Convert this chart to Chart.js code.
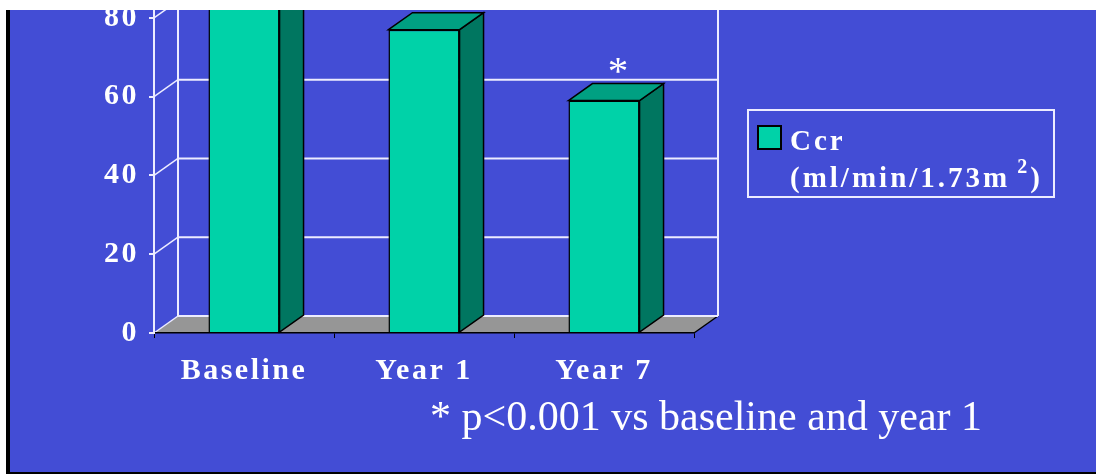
<!DOCTYPE html>
<html>
<head>
<meta charset="utf-8">
<script src="https://cdn.jsdelivr.net/npm/chart.js@4.4.0/dist/chart.umd.min.js"></script>
<style>
  html, body { margin: 0; padding: 0; background: #fff; }
  body { width: 1096px; height: 474px; position: relative; overflow: hidden; }
  #chart { position: absolute; left: 0; top: 0; }
  .legend-box {
    position: absolute; left: 747px; top: 109px; width: 308px; height: 89px;
    box-sizing: border-box; border: 2px solid #ececff;
  }
  .legend-swatch {
    position: absolute; left: 757px; top: 125px; width: 25px; height: 25px;
    box-sizing: border-box; border: 2px solid #000;
  }
  .legend-text {
    position: absolute; left: 790px; top: 122px; color: #fff;
    font: bold 29px/37px "Liberation Serif", serif; letter-spacing: 3px; white-space: nowrap;
  }
  .legend-text sup { font-size: 20px; line-height: 0; position: relative; top: -3px; margin-left: 7px; }
  .footnote {
    position: absolute; left: 430px; top: 395px; color: #fff;
    font: 42px/1 "Liberation Serif", serif; white-space: nowrap;
  }
</style>
</head>
<body>
<canvas id="chart" width="1096" height="474"></canvas>
<div class="legend-box"></div>
<div class="legend-swatch" id="swatch"></div>
<div class="legend-text" id="legendText"></div>
<div class="footnote" id="footnote"></div>
<script>
// donnees
const categories = ["Baseline", "Year 1", "Year 7"];
const ccrValues = [86, 77, 59];          // baseline depasse le haut de l'image
const significance = ["", "", "*"];
const yTicks = [0, 20, 40, 60, 80];
const seriesName = "Ccr";
const seriesUnit = "(ml/min/1.73m";
const seriesUnitSup = "2";
const footnoteText = "* p<0.001 vs baseline and year 1";

// couleurs
const BG = "#434dd5";
const FRONT = "#00d2a8";
const SIDE = "#007660";
const TOP = "#00a082";
const FLOOR = "#969696";
const GRID = "#ececff";

// profondeur de l'effet 3D
const DX = 24;
const DY = 17;

function line(ctx, x1, y1, x2, y2) {
    ctx.beginPath();
    ctx.moveTo(x1, y1);
    ctx.lineTo(x2, y2);
    ctx.stroke();
}

function poly(ctx, pts, fill) {
    ctx.beginPath();
    ctx.moveTo(pts[0][0], pts[0][1]);
    pts.slice(1).forEach(p => ctx.lineTo(p[0], p[1]));
    ctx.closePath();
    ctx.fillStyle = fill;
    ctx.fill();
    ctx.stroke();
}

// fond, sol et mur du fond, puis faces laterales des barres
const pseudo3d = {
    id: "pseudo3d",
    beforeDraw(chart) {
        const ctx = chart.ctx;
        const area = chart.chartArea;
        const y = chart.scales.y;
        const y0 = y.getPixelForValue(0);

        ctx.save();
        ctx.fillStyle = BG;
        ctx.fillRect(0, 0, chart.width, chart.height);

        // sol
        ctx.fillStyle = FLOOR;
        ctx.beginPath();
        ctx.moveTo(area.left, y0);
        ctx.lineTo(area.right, y0);
        ctx.lineTo(area.right + DX, y0 - DY);
        ctx.lineTo(area.left + DX, y0 - DY);
        ctx.closePath();
        ctx.fill();
        ctx.strokeStyle = "#000";
        ctx.lineWidth = 1.5;
        line(ctx, area.right, y0, area.right + DX, y0 - DY);

        // lignes du mur du fond
        ctx.strokeStyle = GRID;
        yTicks.forEach(v => {
            const py = y.getPixelForValue(v);
            ctx.lineWidth = 2;
            line(ctx, area.left + DX, py - DY, area.right + DX, py - DY);
            ctx.lineWidth = 1.5;
            line(ctx, area.left, py, area.left + DX, py - DY);
        });
        ctx.lineWidth = 2;
        line(ctx, area.left + DX, y0 - DY, area.left + DX, 0);
        line(ctx, area.right + DX, y0 - DY, area.right + DX, 0);
        ctx.restore();

        ctx.letterSpacing = "2.5px";
    },
    afterDatasetsDraw(chart) {
        const ctx = chart.ctx;
        const area = chart.chartArea;
        const meta = chart.getDatasetMeta(0);

        ctx.save();
        ctx.letterSpacing = "0px";
        ctx.beginPath();
        ctx.rect(0, area.top, chart.width, chart.height);
        ctx.clip();
        ctx.strokeStyle = "#000";
        ctx.lineWidth = 1.5;
        meta.data.forEach((bar, i) => {
            const l = bar.x - bar.width / 2;
            const r = bar.x + bar.width / 2;
            const t = bar.y;
            const b = bar.base;
            poly(ctx, [[r, t], [r + DX, t - DY], [r + DX, b - DY], [r, b]], SIDE);
            poly(ctx, [[l, t], [l + DX, t - DY], [r + DX, t - DY], [r, t]], TOP);
            if (significance[i]) {
                ctx.fillStyle = "#fff";
                ctx.font = "41px 'Liberation Serif', serif";
                ctx.textAlign = "center";
                ctx.textBaseline = "alphabetic";
                ctx.fillText(significance[i], bar.x + DX / 2 + 2, t - 17);
            }
        });
        ctx.restore();
    },
    afterDraw(chart) {
        const ctx = chart.ctx;
        ctx.save();
        ctx.letterSpacing = "0px";
        ctx.fillStyle = "#fff";
        ctx.fillRect(0, 0, chart.width, 10);
        ctx.fillRect(0, 0, 6, chart.height);
        ctx.fillStyle = "#000";
        ctx.fillRect(6, 10, 4, chart.height - 10);
        ctx.fillRect(6, chart.height - 2, chart.width, 2);
        ctx.restore();
    }
};

const tickFont = { family: "'Liberation Serif', serif", size: 30, weight: "bold" };

new Chart(document.getElementById("chart"), {
    type: "bar",
    data: {
        labels: categories,
        datasets: [{
            label: seriesName + " " + seriesUnit + seriesUnitSup + ")",
            data: ccrValues,
            backgroundColor: FRONT,
            borderColor: "#000",
            borderWidth: 1.5,
            barPercentage: 0.395,
            categoryPercentage: 1
        }]
    },
    options: {
        responsive: false,
        animation: false,
        devicePixelRatio: 1,
        layout: { padding: { top: 10, right: 402, left: 0, bottom: 0 } },
        plugins: {
            legend: { display: false },
            tooltip: { enabled: false }
        },
        scales: {
            x: {
                afterFit(s) { s.height = 141; s.paddingLeft = 0; s.paddingRight = 0; },
                grid: { drawOnChartArea: false, drawTicks: true, tickLength: 5, color: "#000", offset: true },
                border: { display: true, color: "#000", width: 1.5 },
                ticks: { color: "#fff", font: tickFont, padding: 15, maxRotation: 0 }
            },
            y: {
                min: 0,
                max: 82,
                afterFit(s) { s.width = 154; s.paddingTop = 0; s.paddingBottom = 0; },
                afterBuildTicks(s) { s.ticks = yTicks.map(v => ({ value: v })); },
                grid: { drawOnChartArea: false, drawTicks: true, tickLength: 5, color: GRID, lineWidth: 2 },
                border: { display: true, color: GRID, width: 2 },
                ticks: { color: "#fff", font: tickFont, padding: 10 }
            }
        }
    },
    plugins: [pseudo3d]
});

// legende et note en HTML
document.getElementById("swatch").style.background = FRONT;
document.getElementById("legendText").innerHTML =
    seriesName + "<br>" + seriesUnit + "<sup>" + seriesUnitSup + "</sup>)";
document.getElementById("footnote").textContent = footnoteText;
</script>
</body>
</html>
